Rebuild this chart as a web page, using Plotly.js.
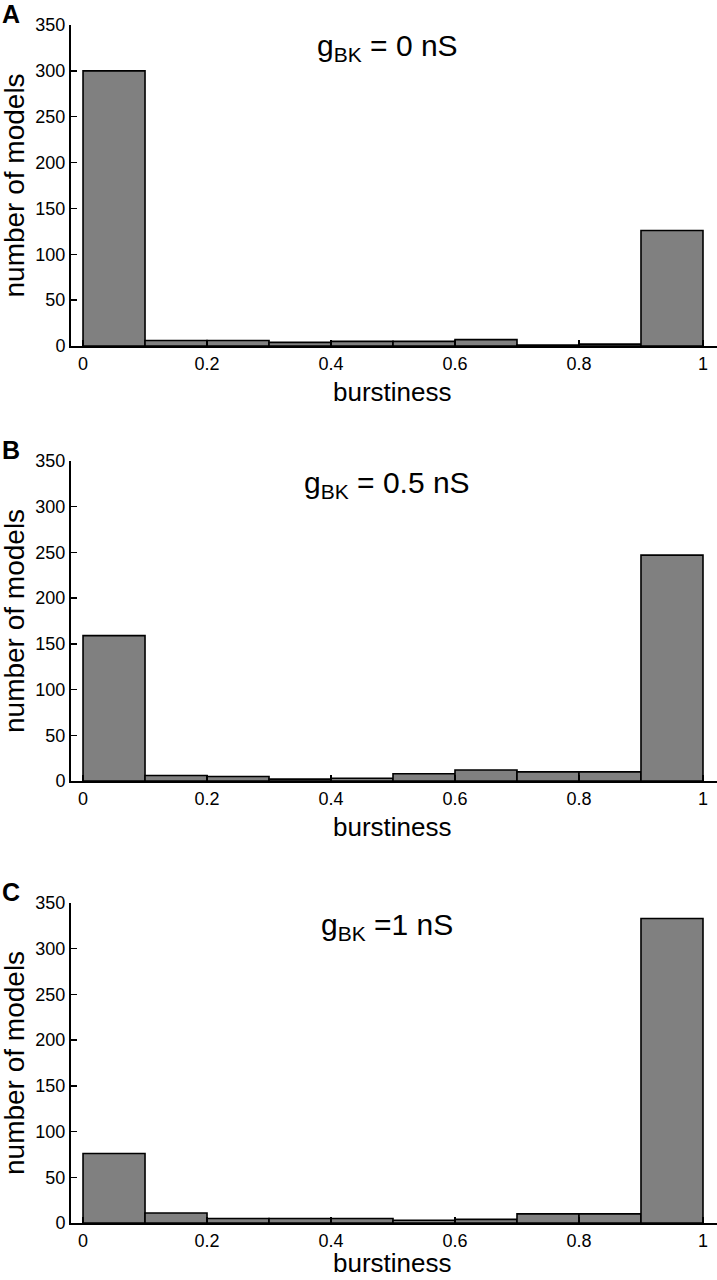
<!DOCTYPE html>
<html><head><meta charset="utf-8">
<script src="https://cdn.plot.ly/plotly-3.0.1.min.js"></script>
<style>html,body{margin:0;padding:0;background:#fff}#chart{width:717px;height:1280px}</style>
</head><body><div id="chart"></div>
<script>
const binCenters = [0.05,0.15,0.25,0.35,0.45,0.55,0.65,0.75,0.85,0.95];
const countsA = [300,6,6,4,5,5,7,1,2,126];
const countsB = [159,6,5,2,3,8,12,10,10,247];
const countsC = [76,11,5,5,5,3,4,10,10,333];
const panelLabels = ['A','B','C'];
const panelTitles = ['g<sub>BK</sub> = 0 nS','g<sub>BK</sub> = 0.5 nS','g<sub>BK</sub> =1 nS'];
const xTickVals = [0,0.2,0.4,0.6,0.8,1];
const xTickText = ['0','0.2','0.4','0.6','0.8','1'];
const yTickVals = [0,50,100,150,200,250,300,350];

const H = 1280;
const font = 'Liberation Sans, Arial, Helvetica, sans-serif';
const areas = [[25,346],[461,781],[903,1223]];
const xTitleOffsets = [46,46,40];
const series = [countsA,countsB,countsC];

const data = series.map((c,i)=>({
  type:'bar', x:binCenters, y:c, width:0.1,
  xaxis: i===0?'x':'x'+(i+1), yaxis: i===0?'y':'y'+(i+1),
  marker:{color:'#808080', line:{color:'#000', width:1.6}},
  hoverinfo:'skip'
}));

const layout = {
  width:717, height:1280, showlegend:false,
  margin:{l:71,r:0,t:0,b:0},
  paper_bgcolor:'#fff', plot_bgcolor:'#fff',
  font:{family:font, color:'#000'},
  bargap:0,
  annotations:[]
};
areas.forEach((a,i)=>{
  const xs = i===0?'xaxis':'xaxis'+(i+1);
  const ys = i===0?'yaxis':'yaxis'+(i+1);
  const yid = i===0?'y':'y'+(i+1);
  const xid = i===0?'x':'x'+(i+1);
  layout[xs] = {domain:[0,1], anchor:yid, range:[-0.0194,1.0226],
    tickvals:xTickVals, ticktext:xTickText, ticks:'inside', ticklen:6, tickwidth:1.5, tickcolor:'#000',
    showline:true, linecolor:'#000', linewidth:2, showgrid:false, zeroline:false,
    tickfont:{size:18, family:font, color:'#000'}, fixedrange:true};
  layout[ys] = {domain:[1-a[1]/H, 1-a[0]/H], anchor:xid, range:[0,350],
    tickvals:yTickVals, ticks:'inside', ticklen:6, tickwidth:1.5, tickcolor:'#000',
    showline:true, linecolor:'#000', linewidth:2, showgrid:false, zeroline:false,
    tickfont:{size:18, family:font, color:'#000'}, fixedrange:true};
  layout.annotations.push({text:'<b>'+panelLabels[i]+'</b>', xref:'paper', yref:'paper',
    x:-71/646, y:1-(a[0]-11)/H, xanchor:'left', yanchor:'middle', showarrow:false,
    font:{size:25, family:font, color:'#000'}});
  layout.annotations.push({text:panelTitles[i], xref:'paper', yref:'paper',
    x:(387-71)/646, y:1-(a[0]+23)/H, xanchor:'center', yanchor:'middle', showarrow:false,
    font:{size:30, family:font, color:'#000'}});
  layout.annotations.push({text:'burstiness', xref:'paper', yref:'paper',
    x:(392-71)/646, y:1-(a[1]+xTitleOffsets[i])/H, xanchor:'center', yanchor:'middle', showarrow:false,
    font:{size:26, family:font, color:'#000'}});
  layout.annotations.push({text:'number of models', xref:'paper', yref:'paper',
    x:(14-71)/646, y:1-((a[0]+a[1])/2)/H, xanchor:'center', yanchor:'middle', showarrow:false, textangle:-90,
    font:{size:28, family:font, color:'#000'}});
});
Plotly.newPlot('chart', data, layout, {displayModeBar:false, staticPlot:true});
</script></body></html>
